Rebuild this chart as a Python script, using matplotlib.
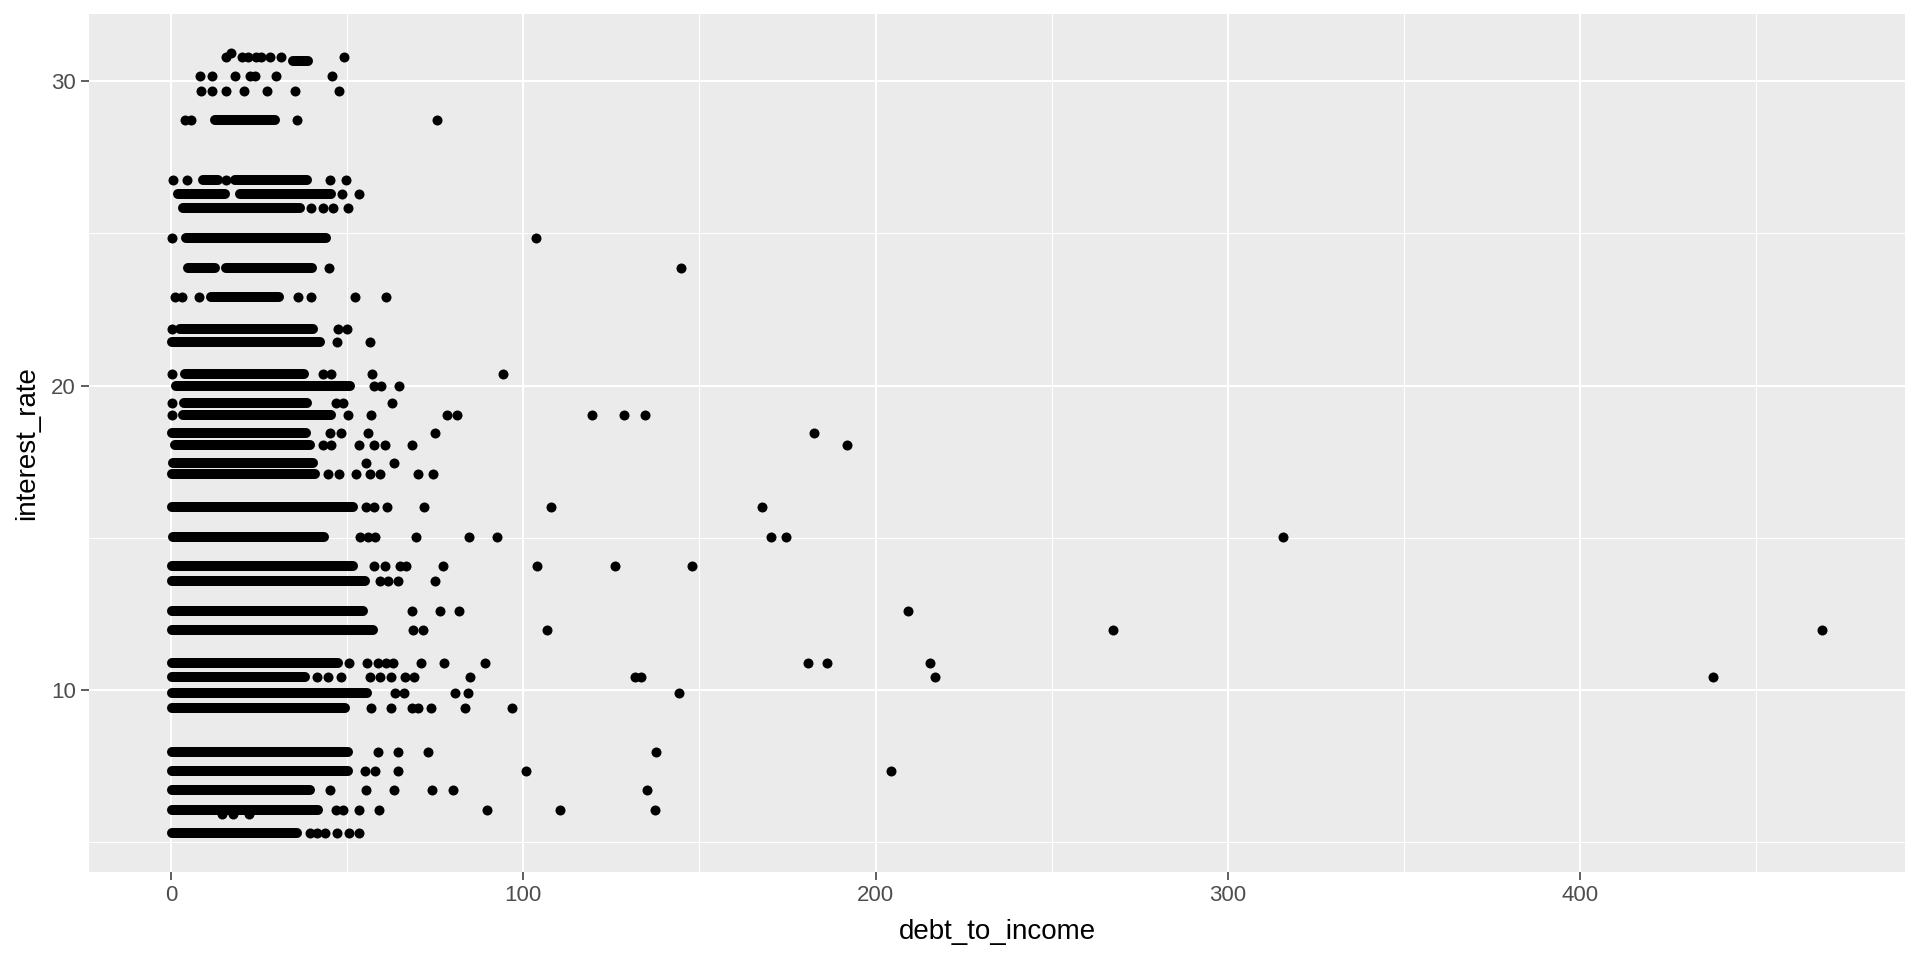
import matplotlib
matplotlib.use("Agg")
import matplotlib.pyplot as plt
from matplotlib.ticker import MultipleLocator

plt.rcParams['font.family'] = ['Liberation Sans', 'DejaVu Sans']

# dense runs of loans: (interest rate, first dti, last dti)
span_rate = [30.65, 28.72, 26.77, 26.77, 26.30, 26.30, 25.82, 24.84, 23.87, 23.87,
             22.91, 21.85, 21.45, 20.39, 20.00, 19.42, 19.03, 18.45, 18.06, 17.47,
             17.09, 16.02, 15.04, 14.07, 13.59, 12.61, 11.98, 10.90, 10.42, 9.92,
             9.43, 7.96, 7.34, 6.72, 6.07, 5.31]
span_lo = [34.6, 12.4, 9.0, 18.1, 2.0, 19.5, 3.4, 4.3, 4.8, 15.6,
           11.4, 2.4, 0.1, 3.8, 1.5, 3.7, 3.4, 0.1, 1.2, 0.6,
           0.1, 0.1, 0.6, 0.1, 0.1, 0.1, 0.1, 0.1, 0.1, 0.1,
           0.1, 0.1, 0.1, 0.1, 0.1, 0.1]
span_hi = [38.9, 29.4, 13.3, 38.5, 15.2, 45.5, 36.5, 44.1, 12.3, 39.9,
           30.5, 40.3, 42.2, 37.8, 50.8, 38.7, 45.5, 38.4, 39.4, 40.3,
           40.8, 51.7, 43.5, 51.7, 55.0, 54.4, 57.2, 47.3, 38.0, 55.5,
           49.3, 50.1, 50.3, 39.4, 41.6, 35.6]

# separate points per interest rate level
level_rate = [30.94, 30.79, 30.17, 29.69, 28.72, 26.77, 26.30, 25.82, 24.84, 23.87,
              22.91, 21.85, 21.45, 20.39, 20.00, 19.42, 19.03, 18.45, 18.06, 17.47,
              17.09, 16.02, 15.04, 14.07, 13.59, 12.61, 11.98, 10.90, 10.42, 9.92,
              9.43, 7.96, 7.34, 6.72, 6.07, 5.93, 5.31]
level_dti = [
    [17.0],
    [15.6, 20.1, 21.8, 24.2, 25.6, 28.0, 31.3, 49.2],
    [8.1, 11.6, 18.1, 22.3, 23.7, 29.9, 45.6],
    [8.6, 11.5, 15.5, 20.6, 27.2, 35.2, 47.6],
    [4.05, 5.6, 35.6, 75.4],
    [0.4, 4.6, 15.5, 45.2, 49.6],
    [48.4, 53.3],
    [39.8, 43.2, 46.0, 50.3],
    [0.1, 103.5],
    [44.9, 144.8],
    [1.0, 3.2, 8.0, 36.1, 39.7, 52.2, 60.9],
    [0.1, 47.4, 50.0],
    [47.2, 56.4],
    [0.1, 43.2, 45.5, 56.9, 94.1],
    [57.5, 59.7, 64.8],
    [0.3, 46.9, 48.8, 62.6],
    [0.1, 50.1, 56.6, 78.2, 81.3, 119.4, 128.5, 134.5],
    [45.0, 48.3, 56.0, 74.8, 182.4],
    [43.1, 45.5, 53.3, 57.6, 60.7, 68.5, 191.8],
    [55.3, 63.3],
    [44.6, 47.6, 52.6, 56.4, 59.3, 70.2, 74.3],
    [55.3, 57.6, 61.2, 71.8, 107.9, 167.9],
    [53.6, 55.8, 57.9, 69.4, 84.5, 92.4, 170.4, 174.5, 315.8],
    [57.6, 60.7, 64.9, 66.8, 77.2, 103.9, 125.9, 148.0],
    [59.4, 61.6, 64.3, 74.9],
    [68.5, 76.3, 81.7, 209.1],
    [68.7, 71.5, 106.8, 267.5, 468.9],
    [50.5, 55.5, 58.6, 61.0, 63.1, 70.9, 77.5, 89.1, 180.7, 186.1, 215.4],
    [41.3, 44.4, 48.2, 56.4, 59.3, 62.3, 66.5, 69.0, 84.8, 131.7, 133.3, 216.8, 437.7],
    [63.5, 66.2, 80.6, 84.2, 144.2],
    [56.7, 62.4, 68.3, 70.1, 73.7, 83.4, 96.7],
    [58.8, 64.3, 72.8, 137.8],
    [55.0, 57.8, 64.3, 100.7, 204.3],
    [45.2, 55.3, 63.2, 74.2, 79.9, 135.1],
    [46.9, 48.9, 53.3, 58.9, 89.8, 110.4, 137.5],
    [14.3, 17.6, 22.1],
    [39.4, 41.3, 43.6, 47.0, 50.6, 53.3],
]

x_ticks = [0, 100, 200, 300, 400]
y_ticks = [10, 20, 30]

pt_x, pt_y = [], []
for r, xs in zip(level_rate, level_dti):
    pt_x += xs
    pt_y += [r] * len(xs)

fig = plt.figure(figsize=(19.2, 9.6), dpi=100)
ax = fig.add_axes([89 / 1920, 88 / 960, (1905 - 89) / 1920, (872 - 13.5) / 960])
ax.set_facecolor('#EBEBEB')

dot = 7.2  # points -> ~10 px diameter
for r, lo, hi in zip(span_rate, span_lo, span_hi):
    ax.plot([lo, hi], [r, r], color='black', lw=dot, solid_capstyle='round', zorder=3)
ax.scatter(pt_x, pt_y, s=dot ** 2, c='black', linewidths=0, zorder=3)

# ggplot-like expansion of 5%
all_x = pt_x + span_lo + span_hi
all_y = pt_y + span_rate
xr = max(all_x) - min(all_x)
yr = max(all_y) - min(all_y)
ax.set_xlim(min(all_x) - 0.05 * xr, max(all_x) + 0.05 * xr)
ax.set_ylim(min(all_y) - 0.05 * yr, max(all_y) + 0.05 * yr)

ax.set_xticks(x_ticks)
ax.set_yticks(y_ticks)
ax.xaxis.set_minor_locator(MultipleLocator(50))
ax.yaxis.set_minor_locator(MultipleLocator(5))
ax.grid(which='major', color='white', lw=1.5)
ax.grid(which='minor', color='white', lw=0.75)
ax.set_axisbelow(True)
for s in ax.spines.values():
    s.set_visible(False)
ax.tick_params(which='major', length=5.5, width=1.1, color='#333333',
               labelcolor='#4D4D4D', labelsize=16, pad=4)
ax.tick_params(which='minor', length=0)

ax.set_xlabel('debt_to_income', fontsize=20, labelpad=9)
ax.set_ylabel('interest_rate', fontsize=20, labelpad=8)

fig.savefig('out.png', dpi=100, facecolor='white')
